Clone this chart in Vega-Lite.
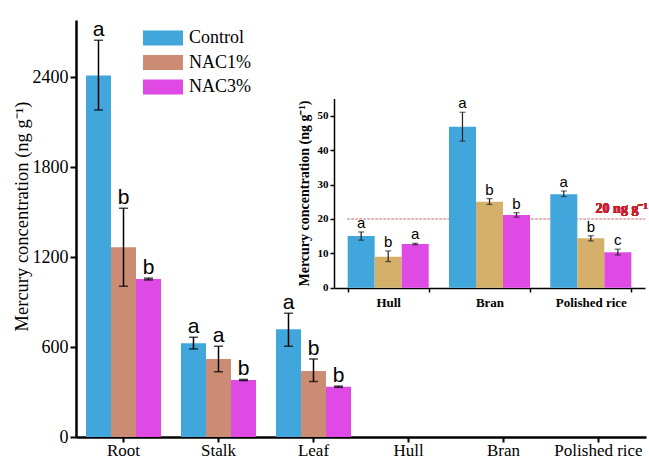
{
  "$schema": "https://vega.github.io/schema/vega-lite/v6.json",
  "width": 570,
  "height": 417,
  "autosize": {"type": "none"},
  "padding": {"left": 76, "top": 20, "right": 3, "bottom": 21},
  "background": "white",
  "config": {
    "font": "Liberation Serif",
    "view": {"stroke": null},
    "axis": {"grid": false, "labelColor": "black", "titleColor": "black", "domainColor": "black", "tickColor": "black", "labelFont": "Liberation Serif", "titleFont": "Liberation Serif"},
    "legend": {"labelFont": "Liberation Serif"}
  },
  "datasets": {
    "main": [
      {"part": "Root", "trt": "Control", "value": 2410, "lo": 2180, "hi": 2645, "label": "a"},
      {"part": "Root", "trt": "NAC1%", "value": 1265, "lo": 1005, "hi": 1525, "label": "b"},
      {"part": "Root", "trt": "NAC3%", "value": 1053, "lo": 1047, "hi": 1059, "label": "b"},
      {"part": "Stalk", "trt": "Control", "value": 625, "lo": 587, "hi": 665, "label": "a"},
      {"part": "Stalk", "trt": "NAC1%", "value": 520, "lo": 435, "hi": 605, "label": "a"},
      {"part": "Stalk", "trt": "NAC3%", "value": 380, "lo": 376, "hi": 384, "label": "b"},
      {"part": "Leaf", "trt": "Control", "value": 718, "lo": 605, "hi": 825, "label": "a"},
      {"part": "Leaf", "trt": "NAC1%", "value": 440, "lo": 370, "hi": 520, "label": "b"},
      {"part": "Leaf", "trt": "NAC3%", "value": 335, "lo": 331, "hi": 339, "label": "b"}
    ],
    "inset": [
      {"part": "Hull", "trt": "Control", "value": 15.0, "lo": 13.8, "hi": 16.2, "label": "a"},
      {"part": "Hull", "trt": "NAC1%", "value": 9.0, "lo": 7.6, "hi": 10.7, "label": "b"},
      {"part": "Hull", "trt": "NAC3%", "value": 12.7, "lo": 12.5, "hi": 12.9, "label": "a"},
      {"part": "Bran", "trt": "Control", "value": 46.8, "lo": 42.6, "hi": 51.0, "label": "a"},
      {"part": "Bran", "trt": "NAC1%", "value": 25.0, "lo": 24.2, "hi": 25.9, "label": "b"},
      {"part": "Bran", "trt": "NAC3%", "value": 21.1, "lo": 20.5, "hi": 21.8, "label": "b"},
      {"part": "Polished rice", "trt": "Control", "value": 27.2, "lo": 26.5, "hi": 28.1, "label": "a"},
      {"part": "Polished rice", "trt": "NAC1%", "value": 14.4, "lo": 13.6, "hi": 15.1, "label": "b"},
      {"part": "Polished rice", "trt": "NAC3%", "value": 10.3, "lo": 9.5, "hi": 11.2, "label": "c"}
    ]
  },
  "layer": [
    {
      "data": {"name": "main"},
      "encoding": {
        "x": {
          "field": "part", "type": "nominal", "sort": null,
          "scale": {"domain": ["Root", "Stalk", "Leaf", "Hull", "Bran", "Polished rice"], "paddingInner": 0.21, "paddingOuter": 0.105},
          "axis": {"title": null, "orient": "bottom", "labelAngle": 0, "labelFont": "Liberation Serif", "labelFontSize": 17, "labelPadding": 0, "tickSize": 5, "tickWidth": 2, "domainWidth": 2.5}
        },
        "xOffset": {"field": "trt", "type": "nominal", "scale": {"domain": ["Control", "NAC1%", "NAC3%"]}}
      },
      "layer": [
        {
          "mark": {"type": "bar"},
          "encoding": {
            "y": {
              "field": "value", "type": "quantitative",
              "scale": {"domain": [0, 2780], "nice": false, "zero": true},
              "axis": {"orient": "left", "values": [0, 600, 1200, 1800, 2400], "format": "d", "title": "Mercury concentration (ng g⁻¹)", "titleFont": "Liberation Serif", "titleFontSize": 18.5, "titleFontWeight": "normal", "titlePadding": 1, "titleY": 196, "labelFont": "Liberation Serif", "labelFontSize": 18, "labelPadding": 2, "tickSize": 6, "tickWidth": 2, "domainWidth": 2.5}
            },
            "color": {
              "field": "trt", "type": "nominal",
              "scale": {"domain": ["Control", "NAC1%", "NAC3%"], "range": ["#40a6dc", "#cc8c74", "#e04ae4"]},
              "legend": {"orient": "none", "legendX": 77, "legendY": 8, "title": null, "symbolType": "M-2,-0.75H2V0.75H-2Z", "symbolSize": 400, "symbolStrokeWidth": 0, "symbolOpacity": 1, "labelFont": "Liberation Serif", "labelFontSize": 18, "labelColor": "black", "labelOffset": 16, "rowPadding": 5.5}
            }
          }
        },
        {
          "mark": {"type": "rule", "color": "black", "strokeWidth": 1.5},
          "encoding": {"y": {"field": "lo", "type": "quantitative"}, "y2": {"field": "hi"}}
        },
        {
          "mark": {"type": "tick", "color": "black", "size": 9, "thickness": 1.5},
          "encoding": {"y": {"field": "lo", "type": "quantitative"}}
        },
        {
          "mark": {"type": "tick", "color": "black", "size": 9, "thickness": 1.5},
          "encoding": {"y": {"field": "hi", "type": "quantitative"}}
        },
        {
          "mark": {"type": "text", "font": "Liberation Sans", "fontSize": 21, "baseline": "alphabetic", "dy": -4, "color": "black"},
          "encoding": {"y": {"field": "hi", "type": "quantitative"}, "text": {"field": "label"}}
        }
      ]
    },
    {
      "data": {"name": "inset"},
      "encoding": {
        "x": {
          "field": "part", "type": "nominal", "sort": null,
          "scale": {"domain": ["Hull", "Bran", "Polished rice"], "range": [258, 569], "paddingInner": 0.2, "paddingOuter": 0.135},
          "axis": {"title": null, "orient": "bottom", "offset": -149, "labelAngle": 0, "labelFont": "Liberation Serif", "labelFontWeight": "bold", "labelFontSize": 13, "labelPadding": 4, "tickSize": 4, "tickWidth": 1.5, "domainWidth": 1.5, "tickBand": "extent"}
        }
      },
      "layer": [
        {
          "mark": {"type": "rule", "color": "#f0b0b0", "strokeDash": [2, 2], "strokeWidth": 1},
          "encoding": {"x": {"datum": "Hull", "bandPosition": 0}, "x2": {"datum": "Polished rice", "bandPosition": 1.17}, "y": {"datum": 20, "type": "quantitative"}}
        },
        {
          "mark": {"type": "bar"},
          "encoding": {
            "xOffset": {"field": "trt", "type": "nominal", "scale": {"domain": ["Control", "NAC1%", "NAC3%"]}},
            "y": {
              "field": "value", "type": "quantitative",
              "scale": {"domain": [0, 55], "nice": false, "zero": true, "range": [267.7, 78.5]},
              "axis": {"orient": "left", "offset": -258, "values": [0, 10, 20, 30, 40, 50], "title": "Mercury concentration (ng g⁻¹)", "titleFont": "Liberation Serif", "titleFontSize": 14, "titleFontWeight": "bold", "titlePadding": 6, "labelFont": "Liberation Serif", "labelFontWeight": "bold", "labelFontSize": 11, "labelPadding": 2, "tickSize": 4, "tickWidth": 1.5, "domainWidth": 1.5}
            },
            "color": {
              "field": "trt", "type": "nominal",
              "scale": {"domain": ["Control", "NAC1%", "NAC3%"], "range": ["#40a6dc", "#d4b06a", "#e04ae4"]},
              "legend": null
            }
          }
        },
        {
          "mark": {"type": "rule", "color": "#222", "strokeWidth": 1.2},
          "encoding": {"xOffset": {"field": "trt", "type": "nominal"}, "y": {"field": "lo", "type": "quantitative"}, "y2": {"field": "hi"}}
        },
        {
          "mark": {"type": "tick", "color": "#222", "size": 6, "thickness": 1.2},
          "encoding": {"xOffset": {"field": "trt", "type": "nominal"}, "y": {"field": "lo", "type": "quantitative"}}
        },
        {
          "mark": {"type": "tick", "color": "#222", "size": 6, "thickness": 1.2},
          "encoding": {"xOffset": {"field": "trt", "type": "nominal"}, "y": {"field": "hi", "type": "quantitative"}}
        },
        {
          "mark": {"type": "text", "font": "Liberation Sans", "fontSize": 15, "baseline": "alphabetic", "dy": -4, "color": "black"},
          "encoding": {"xOffset": {"field": "trt", "type": "nominal"}, "y": {"field": "hi", "type": "quantitative"}, "text": {"field": "label"}}
        },
        {
          "mark": {"type": "text", "font": "Liberation Serif", "fontSize": 14, "fontWeight": "bold", "color": "#c8202a", "baseline": "alphabetic", "align": "center", "dy": -6},
          "encoding": {"x": {"datum": "Polished rice", "bandPosition": 0.88}, "y": {"datum": 20, "type": "quantitative"}, "text": {"value": "20 ng g⁻¹"}}
        }
      ]
    }
  ],
  "resolve": {
    "scale": {"x": "independent", "y": "independent", "xOffset": "independent", "color": "independent"},
    "axis": {"x": "independent", "y": "independent"},
    "legend": {"color": "independent"}
  }
}
